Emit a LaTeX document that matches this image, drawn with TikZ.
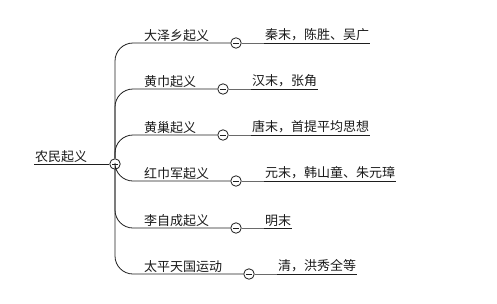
\documentclass[tikz,border=0pt]{standalone}
\usepackage{fontspec}
\newfontfamily\cjk{Noto Sans CJK SC}
\usepackage{tikz}
\usetikzlibrary{positioning}
\definecolor{linedark}{HTML}{1E1E1E}
\definecolor{linegray}{HTML}{6A6A6A}
\definecolor{textdark}{HTML}{1A1A1A}
\tikzset{
  topic/.style={anchor=south west, inner xsep=1bp, inner ysep=1.5bp, text=textdark, font=\cjk\fontsize{13bp}{15bp}\selectfont},
  toggle/.style={circle, draw=linedark, line width=0.8bp, fill=white, minimum size=10.5bp, inner sep=0pt,
    path picture={\draw[linedark, line width=0.8bp] ([xshift=2.6bp]path picture bounding box.west) -- ([xshift=-2.6bp]path picture bounding box.east);}},
  link/.style={draw=linedark, line width=0.8bp},
  stub/.style={draw=linegray, line width=0.8bp},
  trunk/.style={draw=linedark, line width=0.8bp, rounded corners=18bp}
}
\begin{document}
\begin{tikzpicture}[x=1bp, y=-1bp]
  \useasboundingbox (0,0) rectangle (497,303);
  % root topic
  \node[topic] (root) at (34,164) {农民起义};
  \node[toggle] (hub) at (115,164) {};
  \draw[link] (root.south west) -- (hub);

  % uprisings
  \node[toggle] (c1) at (236,43) {};
  \node[toggle] (c2) at (223,89) {};
  \node[toggle] (c3) at (223,135) {};
  \node[toggle] (c4) at (236,181) {};
  \node[toggle] (c5) at (236,228) {};
  \node[toggle] (c6) at (249,274) {};
  \node[topic] (b1) at (143,43) {大泽乡起义};
  \node[topic] (b2) at (143,89) {黄巾起义};
  \node[topic] (b3) at (143,135) {黄巢起义};
  \node[topic] (b4) at (143,181) {红巾军起义};
  \node[topic] (b5) at (143,228) {李自成起义};
  \node[topic] (b6) at (143,274) {太平天国运动};
  \draw[trunk] (hub) |- (c1);
  \draw[trunk] (hub) |- (c2);
  \draw[trunk] (hub) |- (c3);
  \draw[trunk] (hub) |- (c4);
  \draw[trunk] (hub) |- (c5);
  \draw[trunk] (hub) |- (c6);

  % details
  \node[topic] (l1) at (264,43) {秦末，陈胜、吴广};
  \node[topic] (l2) at (251,89) {汉末，张角};
  \node[topic] (l3) at (251,135) {唐末，首提平均思想};
  \node[topic] (l4) at (264,181) {元末，韩山童、朱元璋};
  \node[topic] (l5) at (264,228) {明末};
  \node[topic] (l6) at (277,274) {清，洪秀全等};
  \draw[stub] (c1) -- (l1.south west);
  \draw[stub] (c2) -- (l2.south west);
  \draw[stub] (c3) -- (l3.south west);
  \draw[stub] (c4) -- (l4.south west);
  \draw[stub] (c5) -- (l5.south west);
  \draw[stub] (c6) -- (l6.south west);
  \draw[link] (l1.south west) -- (l1.south east);
  \draw[link] (l2.south west) -- (l2.south east);
  \draw[link] (l3.south west) -- (l3.south east);
  \draw[link] (l4.south west) -- (l4.south east);
  \draw[link] (l5.south west) -- (l5.south east);
  \draw[link] (l6.south west) -- (l6.south east);
\end{tikzpicture}
\end{document}
